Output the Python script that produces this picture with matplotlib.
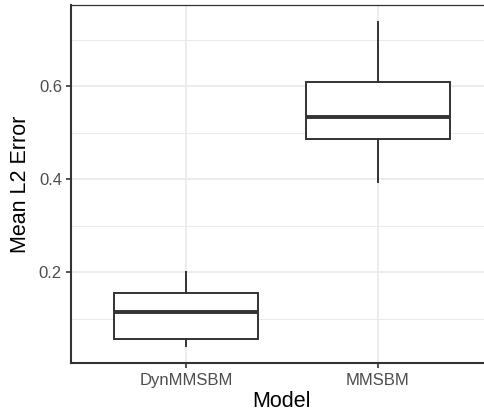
import matplotlib
matplotlib.use("Agg")
import matplotlib.pyplot as plt
from matplotlib.ticker import MultipleLocator

plt.rcParams['font.family'] = ['Liberation Sans', 'DejaVu Sans']

models = ["DynMMSBM", "MMSBM"]
whisker_low = [0.041, 0.395]
q1 = [0.056, 0.487]
median = [0.116, 0.535]
q3 = [0.156, 0.610]
whisker_high = [0.200, 0.739]

W, H = 484, 417
fig = plt.figure(figsize=(W / 100, H / 100), dpi=100)
left_px, right_px, top_px, bottom_px = 71, 493, 5.3, 362.7
ax = fig.add_axes([left_px / W, 1 - bottom_px / H, (right_px - left_px) / W, (bottom_px - top_px) / H])

stats = []
for i, m in enumerate(models):
    stats.append(dict(label=m, whislo=whisker_low[i], q1=q1[i], med=median[i],
                      q3=q3[i], whishi=whisker_high[i], fliers=[]))

pos = list(range(1, len(models) + 1))
edge = "#333333"
ax.bxp(stats, positions=pos, widths=0.75, showcaps=False, patch_artist=True,
       boxprops=dict(facecolor="white", edgecolor=edge, linewidth=1.4),
       medianprops=dict(color=edge, linewidth=2.8, solid_capstyle='butt'),
       whiskerprops=dict(color=edge, linewidth=1.4), zorder=3)

ymin = min(whisker_low); ymax = max(whisker_high)
pad = (ymax - ymin) * 0.05
ax.set_ylim(ymin - pad, ymax + pad)
ax.set_xlim(0.4, len(models) + 0.6)

ax.yaxis.set_minor_locator(MultipleLocator(0.1))
ax.set_yticks([0.2, 0.4, 0.6])
ax.set_yticklabels(["0.2", "0.4", "0.6"])
ax.set_xticks(pos)
ax.set_xticklabels(models)

ax.grid(True, which='major', color='#EBEBEB', linewidth=1.3, zorder=0)
ax.grid(True, which='minor', axis='y', color='#EBEBEB', linewidth=0.7, zorder=0)
ax.set_axisbelow(True)
ax.tick_params(axis='both', which='major', length=3.5, width=1.2, color=edge,
               labelcolor='#4D4D4D', labelsize=12, pad=3)
ax.tick_params(axis='x', pad=4)
ax.tick_params(axis='both', which='minor', length=0)

for s in ['left', 'bottom']:
    ax.spines[s].set_color(edge)
    ax.spines[s].set_linewidth(1.5)
ax.spines['top'].set_color(edge)
ax.spines['top'].set_linewidth(0.9)
ax.spines['right'].set_visible(False)

ax.set_xlabel("Model", fontsize=15.5, color='black', labelpad=2)
ax.set_ylabel("Mean L2 Error", fontsize=15.5, color='black', labelpad=6)

fig.savefig("out.png", dpi=100, facecolor='white')
